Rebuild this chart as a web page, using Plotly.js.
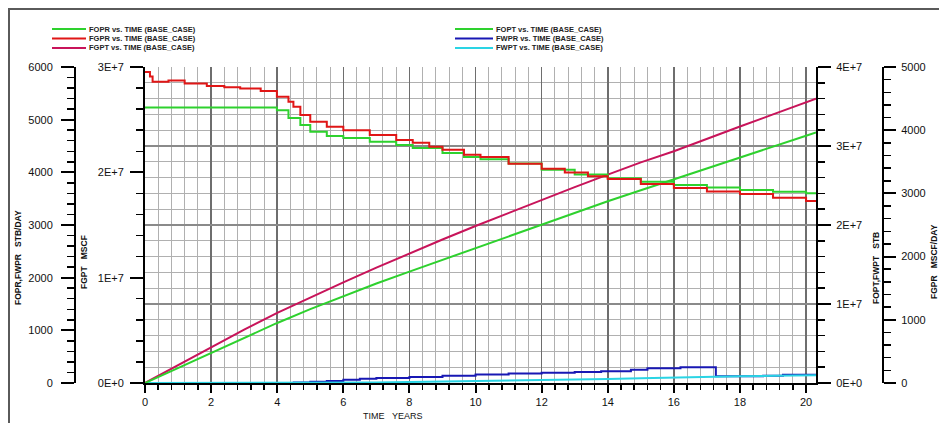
<!DOCTYPE html>
<html>
<head>
<meta charset="utf-8">
<script src="https://cdn.plot.ly/plotly-3.0.1.min.js"></script>
<style>
  html, body { margin: 0; padding: 0; background: #fff; }
  #wrap { position: relative; width: 939px; height: 423px; overflow: hidden; }
  #chart { width: 939px; height: 423px; }
  #frame { position: absolute; left: 8px; top: 8px; width: 940px; height: 430px;
           border-top: 2px solid #5a5a5a; border-left: 2px solid #5a5a5a; pointer-events: none; }
</style>
</head>
<body>
<div id="wrap"><div id="chart"></div><div id="frame"></div></div>
<script>
// ---------------- DATA ----------------
const seriesNames = ['FOPR', 'FGPR', 'FGPT', 'FOPT', 'FWPR', 'FWPT'];
const caseLabel = ' vs. TIME (BASE_CASE)';

// FOPR, STB/DAY (left outer axis)
const foprTime = [0, 3.99, 4.34, 4.70, 5.0, 5.5, 6.0, 6.8, 7.6, 8.1, 9.0, 9.65, 10.15, 11, 12, 13, 14, 15, 16, 17, 18, 19, 20, 20.3];
const foprVal  = [5230, 5180, 5030, 4900, 4770, 4690, 4650, 4580, 4520, 4460, 4365, 4290, 4250, 4170, 4050, 3960, 3890, 3820, 3760, 3710, 3665, 3630, 3605, 3600];

// FGPR, MSCF/DAY (right outer axis)
const fgprTime = [0, 0.15, 0.23, 0.71, 1.2, 1.87, 2.4, 2.88, 3.5, 3.99, 4.34, 4.49, 4.7, 5.0, 5.5, 6.0, 6.8, 7.6, 8.1, 8.6, 9.0, 9.65, 10.15, 11, 12, 12.7, 13.4, 14, 15, 16, 17, 18, 19, 20, 20.3];
const fgprVal  = [4920, 4850, 4765, 4785, 4740, 4700, 4680, 4660, 4620, 4530, 4450, 4370, 4240, 4135, 4055, 4000, 3925, 3845, 3800, 3740, 3690, 3610, 3575, 3470, 3390, 3330, 3270, 3228, 3150, 3085, 3030, 2990, 2930, 2880, 2870];

// FGPT, MSCF (left inner axis)
const fgptTime = [0, 1, 2, 3, 4, 5, 6, 7, 8, 9, 10, 11, 12, 13, 14, 15, 16, 17, 18, 19, 20, 20.3];
const fgptVal  = [0, 1.68e6, 3.38e6, 5.07e6, 6.65e6, 8.13e6, 9.55e6, 10.95e6, 12.32e6, 13.62e6, 14.9e6, 16.15e6, 17.4e6, 18.6e6, 19.78e6, 20.95e6, 22.0e6, 23.2e6, 24.35e6, 25.5e6, 26.65e6, 27.0e6];

// FOPT, STB (right inner axis)
const foptTime = [0, 1, 2, 3, 4, 5, 6, 7, 8, 9, 10, 11, 12, 13, 14, 15, 16, 17, 18, 19, 20, 20.3];
const foptVal  = [0, 1.9e6, 3.8e6, 5.7e6, 7.6e6, 9.35e6, 11.0e6, 12.6e6, 14.1e6, 15.6e6, 17.1e6, 18.6e6, 20.1e6, 21.55e6, 23.0e6, 24.4e6, 25.8e6, 27.2e6, 28.6e6, 29.9e6, 31.3e6, 31.7e6];

// FWPR, STB/DAY (left outer axis)
const fwprTime = [0, 4.0, 4.5, 5.0, 5.5, 6.0, 6.5, 7.0, 8.0, 9.0, 10.0, 11.0, 12.0, 13.0, 13.8, 14.7, 15.2, 16.2, 17.27, 18.0, 18.7, 19.3, 20.3];
const fwprVal  = [0, 0, 10, 25, 40, 60, 80, 95, 115, 138, 160, 180, 195, 210, 222, 250, 280, 300, 127, 130, 140, 158, 158];

// FWPT, STB (right inner axis)
const fwptTime = [0, 4.5, 5, 6, 7, 8, 9, 10, 11, 12, 13, 14, 15, 16, 17, 17.27, 18, 19, 20, 20.3];
const fwptVal  = [0, 0, 0.005e6, 0.03e6, 0.07e6, 0.12e6, 0.17e6, 0.23e6, 0.29e6, 0.36e6, 0.43e6, 0.51e6, 0.6e6, 0.7e6, 0.8e6, 0.84e6, 0.87e6, 0.91e6, 0.96e6, 0.97e6];

// Tick labels
const xTickVals = [0, 2, 4, 6, 8, 10, 12, 14, 16, 18, 20];
const eTickVals3 = [0, 1e7, 2e7, 3e7];
const eTickText3 = ['0E+0', '1E+7', '2E+7', '3E+7'];
const eTickVals4 = [0, 1e7, 2e7, 3e7, 4e7];
const eTickText4 = ['0E+0', '1E+7', '2E+7', '3E+7', '4E+7'];

// ---------------- STYLE ----------------
const W = 939, H = 423;
const plotL = 145, plotR = 816, plotT = 67, plotB = 383;
const px2x = p => p / W;
const px2y = p => (plotB - p) / (plotB - plotT);

const cGreen = '#2ed12e', cRed = '#e01616', cCrimson = '#c8145a', cBlue = '#1818b4', cCyan = '#2ad4e4';
const colors = { FOPR: cGreen, FGPR: cRed, FGPT: cCrimson, FOPT: cGreen, FWPR: cBlue, FWPT: cCyan };
const FONT = 'Liberation Sans, Arial, sans-serif';

const traces = [
  { x: fwptTime, y: fwptVal, yaxis: 'y3', line: { color: cCyan, width: 2 }, name: 'FWPT' },
  { x: fwprTime, y: fwprVal, yaxis: 'y2', line: { color: cBlue, width: 2, shape: 'hv' }, name: 'FWPR' },
  { x: foptTime, y: foptVal, yaxis: 'y3', line: { color: cGreen, width: 2 }, name: 'FOPT' },
  { x: fgptTime, y: fgptVal, yaxis: 'y',  line: { color: cCrimson, width: 2 }, name: 'FGPT' },
  { x: foprTime, y: foprVal, yaxis: 'y2', line: { color: cGreen, width: 2, shape: 'hv' }, name: 'FOPR' },
  { x: fgprTime, y: fgprVal, yaxis: 'y4', line: { color: cRed, width: 2, shape: 'hv' }, name: 'FGPR' }
].map(t => Object.assign({ type: 'scatter', mode: 'lines', xaxis: 'x', hoverinfo: 'skip' }, t));

const tickFont = { family: FONT, size: 11, color: '#111' };
const baseY = {
  showgrid: false, zeroline: false, showline: true, linecolor: '#000', linewidth: 2,
  ticks: 'outside', ticklen: 13, tickwidth: 2, tickcolor: '#000', tickfont: tickFont,
  fixedrange: true
};

const layout = {
  width: W, height: H,
  margin: { l: 0, r: 0, t: plotT, b: H - plotB },
  paper_bgcolor: '#fff', plot_bgcolor: '#fff',
  showlegend: false,
  font: { family: FONT },
  xaxis: {
    domain: [px2x(plotL), px2x(plotR)], range: [0, 20.3],
    tickmode: 'array', tickvals: xTickVals,
    showgrid: true, gridcolor: '#6e6e6e', gridwidth: 1.6,
    zeroline: false, showline: true, linecolor: '#000', linewidth: 2,
    ticks: 'outside', ticklen: 8, tickwidth: 2, tickcolor: '#000', tickfont: tickFont,
    minor: { tickmode: 'linear', tick0: 0, dtick: 0.4, ticklen: 5, tickwidth: 1.5, tickcolor: '#000', showgrid: true, gridcolor: '#b0b0b0', gridwidth: 1 },
    fixedrange: true
  },
  yaxis: Object.assign({}, baseY, {
    range: [0, 3e7], side: 'left', anchor: 'x',
    tickmode: 'array', tickvals: eTickVals3, ticktext: eTickText3, ticklabelstandoff: 4,
    minor: { tickmode: 'linear', tick0: 0, dtick: 2e6, ticklen: 7, tickwidth: 1.5, tickcolor: '#000' }
  }),
  yaxis2: Object.assign({}, baseY, {
    range: [0, 6000], overlaying: 'y', side: 'left', anchor: 'free', position: px2x(75),
    tickmode: 'linear', tick0: 0, dtick: 1000, ticklabelstandoff: 6,
    minor: { tickmode: 'linear', tick0: 0, dtick: 200, ticklen: 7, tickwidth: 1.5, tickcolor: '#000' }
  }),
  yaxis3: Object.assign({}, baseY, {
    range: [0, 4e7], overlaying: 'y', side: 'right', anchor: 'x',
    tickmode: 'array', tickvals: eTickVals4, ticktext: eTickText4, ticklabelstandoff: 3,
    showgrid: true, gridcolor: '#8a8a8a', gridwidth: 1.4,
    minor: { tickmode: 'linear', tick0: 0, dtick: 2e6, ticklen: 7, tickwidth: 1.5, tickcolor: '#000', showgrid: true, gridcolor: '#b0b0b0', gridwidth: 1 }
  }),
  yaxis4: Object.assign({}, baseY, {
    range: [0, 5000], overlaying: 'y', side: 'right', anchor: 'free', position: px2x(883),
    tickmode: 'linear', tick0: 0, dtick: 1000, ticklen: 12, ticklabelstandoff: 3,
    minor: { tickmode: 'linear', tick0: 0, dtick: 200, ticklen: 7, tickwidth: 1.5, tickcolor: '#000' }
  }),
  shapes: [],
  annotations: []
};

// axis titles (as annotations so they sit where the reference has them)
const axisTitles = [
  { text: 'FOPR,FWPR   STB/DAY', x: 18, y: 258 },
  { text: 'FGPT   MSCF', x: 84, y: 262 },
  { text: 'FOPT,FWPT   STB', x: 876, y: 268 },
  { text: 'FGPR   MSCF/DAY', x: 934, y: 262 }
];
axisTitles.forEach(a => layout.annotations.push({
  xref: 'paper', yref: 'paper', x: px2x(a.x), y: px2y(a.y), text: a.text, textangle: -90,
  showarrow: false, xanchor: 'center', yanchor: 'middle',
  font: { family: FONT, size: 8.5, color: '#111', weight: 'bold' }
}));
layout.annotations.push({
  xref: 'paper', yref: 'paper', x: px2x(393), y: px2y(416), text: 'TIME&nbsp;&nbsp;&nbsp;YEARS',
  showarrow: false, xanchor: 'center', yanchor: 'middle',
  font: { family: FONT, size: 9, color: '#111' }
});

// legend: two columns of three entries
const legendCols = [
  { names: ['FOPR', 'FGPR', 'FGPT'], x0: 52, x1: 86 },
  { names: ['FOPT', 'FWPR', 'FWPT'], x0: 455, x1: 493 }
];
const legendRows = [29, 38.5, 48];
legendCols.forEach(col => col.names.forEach((n, i) => {
  const yy = px2y(legendRows[i]);
  layout.shapes.push({ type: 'line', xref: 'paper', yref: 'paper', x0: px2x(col.x0), x1: px2x(col.x1), y0: yy, y1: yy,
    line: { color: colors[n], width: 2 } });
  layout.annotations.push({ xref: 'paper', yref: 'paper', x: px2x(col.x1 + 1), y: yy, text: n + caseLabel,
    showarrow: false, xanchor: 'left', yanchor: 'middle',
    font: { family: FONT, size: 7.5, color: '#222', weight: 'bold' } });
}));

Plotly.newPlot('chart', traces, layout, { staticPlot: true, displayModeBar: false });
</script>
</body>
</html>
